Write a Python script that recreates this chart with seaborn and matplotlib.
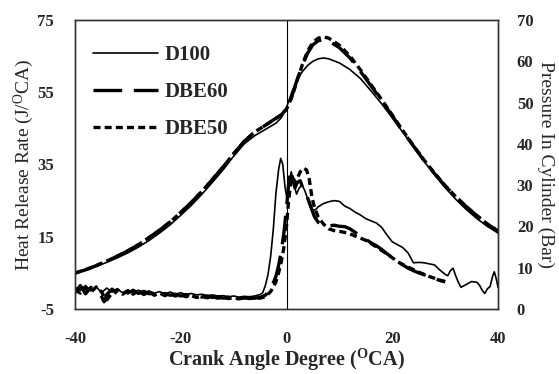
import matplotlib
matplotlib.use("Agg")
import matplotlib.pyplot as plt
import seaborn as sns
import pandas as pd
from matplotlib.lines import Line2D

# ---------------- data ----------------
fuels = ["D100", "DBE60", "DBE50"]

# cylinder pressure (bar)
p_ca = [-40, -38, -36, -34, -32, -30, -28, -26, -24, -22, -20, -18, -16, -14, -12, -10,
        -8, -6, -4, -2, -1, 0, 1, 2, 3, 4, 5, 6, 7, 8, 10, 12, 14, 16, 18, 20, 22, 24,
        26, 28, 30, 32, 34, 36, 38, 40]
p_d100 = [8.7, 9.4, 10.3, 11.3, 12.4, 13.6, 15.0, 16.6, 18.4, 20.4, 22.7, 25.1, 27.8, 30.7, 33.7, 37.0,
          40.0, 42.0, 43.5, 45.0, 46.3, 48.8, 52.5, 55.5, 57.5, 59.0, 60.0, 60.6, 60.8, 60.6, 59.6, 58.0, 55.8, 52.8, 49.7, 46.3, 42.8, 39.3,
          35.8, 32.5, 29.4, 26.6, 24.1, 21.9, 20.0, 18.4]
p_dbe60 = [8.7, 9.5, 10.5, 11.6, 12.8, 14.1, 15.6, 17.3, 19.1, 21.1, 23.4, 25.8, 28.5, 31.4, 34.4, 37.6,
           40.6, 42.9, 44.5, 46.2, 47.0, 48.5, 51.5, 55.5, 59.0, 62.0, 64.0, 65.0, 65.2, 64.9, 63.3, 60.8, 57.5, 54.0, 50.5, 46.8, 43.0, 39.5,
           36.0, 32.8, 29.8, 27.2, 24.8, 22.6, 20.6, 18.8]
p_dbe50 = [8.7, 9.5, 10.5, 11.6, 12.8, 14.1, 15.6, 17.3, 19.1, 21.1, 23.4, 25.8, 28.5, 31.4, 34.4, 37.6,
           40.6, 42.9, 44.5, 46.2, 47.0, 48.4, 51.3, 55.3, 59.2, 62.5, 64.6, 65.6, 65.9, 65.6, 63.9, 61.3, 57.9, 54.3, 50.7, 47.0, 43.2, 39.6,
           36.1, 32.9, 29.9, 27.2, 24.8, 22.6, 20.6, 18.9]

# heat release rate (J/oCA)
h_ca_d100 = [-40, -39, -38, -37, -36, -35, -34, -33, -32, -31, -30, -29, -28, -27, -26, -25, -24, -23,
             -22, -21, -20, -19, -18, -17, -16, -15, -14, -13, -12, -11, -10, -9, -8, -7, -6, -5,
             -4.5, -4, -3.5, -3, -2.5, -2, -1.5, -1.1, -0.7, -0.3, 0.1, 0.5, 0.9, 1.4, 1.9, 2.4, 2.9, 3.4,
             4, 4.5, 5, 5.5, 6, 7, 8, 9, 10, 11, 12, 13, 14, 15, 16, 17, 18, 19, 20, 21, 22, 23,
             24, 25, 26, 27, 28, 29, 30, 30.5, 31, 31.5, 32, 32.5, 33, 34, 35, 36, 36.5, 37, 37.5,
             38, 38.5, 39, 39.3, 39.7, 40]
h_d100 = [1.0, 0.2, 1.5, 0.0, 1.2, -0.5, 0.8, -0.3, 0.5, -0.5, 0.3, -0.6, 0.2, -0.4, 0.0, -0.6, -0.2, -0.8,
          -0.3, -0.9, -0.5, -1.0, -0.7, -1.1, -0.9, -1.3, -1.1, -1.4, -1.3, -1.6, -1.4, -1.7, -1.5, -1.6, -1.4, -1.0,
          -0.5, 1.5, 4.5, 9.5, 17.0, 27.0, 33.5, 36.7, 35.0, 29.0, 25.5, 30.0, 33.0, 29.5, 26.8, 28.5, 29.3, 28.0,
          25.5, 23.2, 22.3, 22.5, 23.3, 24.2, 24.7, 25.0, 24.8, 23.5, 22.8, 21.8, 21.0, 20.0, 19.4, 18.8, 17.6, 15.5, 13.6, 12.8, 12.0, 10.5,
          7.8, 7.9, 7.8, 7.5, 7.2, 5.8, 4.6, 4.2, 5.6, 6.3, 4.2, 2.4, 1.0, 1.8, 2.6, 2.4, 1.6, 0.2, -0.7,
          0.6, 1.2, 4.2, 5.3, 3.2, 1.0]

h_ca_dbe = [-40, -39, -38, -37, -36, -35, -34.5, -34, -33, -32, -31, -30, -29, -28, -27, -26, -25, -24, -23,
            -22, -21, -20, -19, -18, -17, -16, -15, -14, -13, -12, -11, -10, -9, -8, -7, -6, -5,
            -4, -3, -2, -1.5, -1, -0.5, 0, 0.4, 0.8, 1.2, 1.6, 2.0, 2.6, 3.2, 3.8, 4.3, 4.8, 5.3,
            6, 7, 8, 9, 10, 11, 12, 13, 14, 15, 16, 17, 18, 19, 20, 21, 22, 23, 24, 25, 26,
            27, 28, 29, 30]
h_dbe60 = [-0.5, 1.5, -0.8, 1.0, 0.0, -1.5, -3.0, -1.0, 0.5, -0.8, 0.6, -0.6, 0.2, -0.7, -0.1, -0.8, -0.5, -1.1, -0.7,
           -1.2, -0.9, -1.4, -1.0, -1.5, -1.2, -1.7, -1.4, -1.8, -1.6, -2.0, -1.7, -2.1, -1.8, -2.0, -1.9, -2.0, -1.8,
           -1.2, 0.5, 4.0, 7.0, 11.0, 16.0, 23.0, 29.5, 33.5, 31.0, 28.5, 30.0, 30.5, 28.0, 26.5, 24.5, 22.5, 20.5,
           19.0, 18.3, 18.0, 18.2, 17.9, 17.8, 17.2, 16.2, 15.2, 14.3, 13.3, 12.5, 11.5, 10.3, 9.3, 8.2, 7.2, 6.3, 5.6, 5.0, 4.5,
           3.9, 3.4, 2.9, 2.5]
h_dbe50 = [0.3, -0.6, 0.9, -0.4, 1.1, -0.2, -1.5, -2.5, -0.6, 0.4, -0.9, 0.0, -0.9, 0.1, -1.0, -0.3, -1.2, -0.6, -1.3,
           -0.8, -1.4, -1.1, -1.6, -1.3, -1.8, -1.5, -1.9, -1.6, -2.0, -1.8, -2.1, -1.9, -2.2, -1.9, -2.1, -1.9, -2.0,
           -1.6, -0.2, 2.5, 5.0, 8.0, 12.0, 18.0, 25.0, 30.0, 31.5, 30.0, 31.0, 33.0, 34.0, 33.5, 31.0, 26.0, 23.0,
           20.5, 18.5, 17.2, 16.7, 16.5, 16.2, 15.8, 15.2, 14.6, 14.0, 13.1, 12.2, 11.2, 10.2, 9.2, 8.1, 7.3, 6.6, 5.9, 5.2, 4.6,
           4.0, 3.5, 3.0, 2.6]

x_ticks = [-40, -20, 0, 20, 40]
hrr_ticks = [-5, 15, 35, 55, 75]
p_ticks = [0, 10, 20, 30, 40, 50, 60, 70]

# ---------------- style ----------------
sns.set_theme(style="white")
plt.rcParams["font.family"] = ["Liberation Serif", "DejaVu Serif"]
plt.rcParams["axes.unicode_minus"] = False
plt.rcParams["mathtext.fontset"] = "custom"
plt.rcParams["mathtext.rm"] = "Liberation Serif"
plt.rcParams["mathtext.bf"] = "Liberation Serif:bold"
plt.rcParams["mathtext.it"] = "Liberation Serif:italic"

styles = {
    "D100": dict(lw=1.2, dashes=None),
    "DBE60": dict(lw=2.4, dashes=(8.6, 3.5)),
    "DBE50": dict(lw=2.4, dashes=(2.1, 1.25)),
}

fig = plt.figure(figsize=(5.59, 3.74), dpi=100)
ax = fig.add_axes([75 / 559, 1 - 309 / 374, 423 / 559, 289 / 374])
ax2 = ax.twinx()

hrr = {"D100": (h_ca_d100, h_d100), "DBE60": (h_ca_dbe, h_dbe60), "DBE50": (h_ca_dbe, h_dbe50)}
prs = {"D100": (p_ca, p_d100), "DBE60": (p_ca, p_dbe60), "DBE50": (p_ca, p_dbe50)}

for f in fuels:
    st = styles[f]
    for axis, src in ((ax, hrr), (ax2, prs)):
        df = pd.DataFrame({"ca": src[f][0], "v": src[f][1]})
        n0 = len(axis.lines)
        sns.lineplot(data=df, x="ca", y="v", ax=axis, color="black", lw=st["lw"],
                     estimator=None, sort=False, legend=False)
        ln = axis.lines[n0]
        if st["dashes"] is not None:
            ln.set_dashes(st["dashes"])

ax.axvline(0, color="black", lw=0.8)

ax.set_xlim(-40, 40)
ax.set_ylim(-5, 75)
ax2.set_ylim(0, 70)
ax.set_xticks(x_ticks)
ax.set_yticks(hrr_ticks)
ax2.set_yticks(p_ticks)

for a in (ax, ax2):
    a.tick_params(length=0, labelsize=12)
    for lab in a.get_xticklabels() + a.get_yticklabels():
        lab.set_fontweight("bold")
    for sp in a.spines.values():
        sp.set_color("#333333")
        sp.set_linewidth(1.0)
ax.tick_params(axis="y", pad=15)
ax.tick_params(axis="x", pad=15.5)
ax2.tick_params(axis="y", pad=13.5)

ax.set_xlabel(r"Crank Angle Degree ($^{\mathbf{O}}$CA)", fontsize=14.5, fontweight="bold", labelpad=0)
ax.set_ylabel(r"Heat Release Rate (J/$^{\mathrm{O}}$CA)", fontsize=14, labelpad=1)
ax2.set_ylabel("Pressure In Cylinder (Bar)", fontsize=14, rotation=-90, labelpad=15)

handles = []
for f in fuels:
    st = styles[f]
    h = Line2D([0], [0], color="black", lw=st["lw"])
    if st["dashes"] is not None:
        h.set_dashes(st["dashes"])
    handles.append(h)
leg = ax2.legend(handles, fuels, loc="upper left", frameon=False, handlelength=3.1,
                 labelspacing=0.82, prop={"weight": "bold", "size": 15},
                 bbox_to_anchor=(0.0426, 0.913), handletextpad=0.34,
                 borderaxespad=0, borderpad=0)

fig.savefig("out.png", dpi=100)
